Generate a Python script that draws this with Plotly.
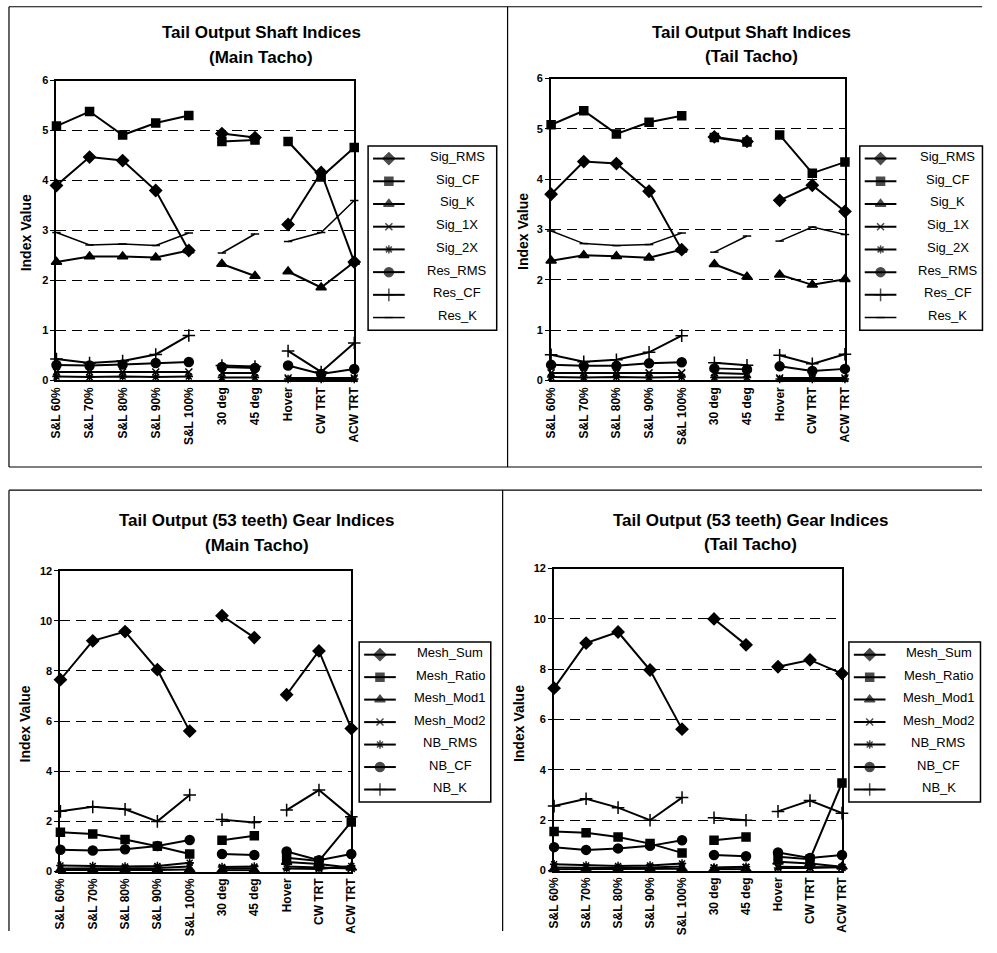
import plotly.graph_objects as go

# figure size in pixels
W, H = 989, 937
# screen placement of the figure: screen = offset + scale * figure pixel
SX_OFF, SX_SCALE = 3.0, 0.9965
SY_OFF, SY_SCALE = 8.9, 0.981

categories = ["S&L 60%", "S&L 70%", "S&L 80%", "S&L 90%", "S&L 100%",
              "30 deg", "45 deg", "Hover", "CW TRT", "ACW TRT"]

# Tail output shaft indices, main tacho
sig_rms_main = [3.90, 4.47, 4.40, 3.80, 2.60, 4.94, 4.86, 3.12, 4.16, 2.37]
sig_cf_main = [5.09, 5.38, 4.91, 5.15, 5.30, 4.78, 4.81, 4.78, 4.07, 4.66]
sig_k_main = [2.37, 2.48, 2.48, 2.46, 2.60, 2.33, 2.09, 2.18, 1.86, 2.37]
sig_1x_main = [0.17, 0.17, 0.17, 0.17, 0.17, 0.15, 0.15, 0.05, 0.05, 0.05]
sig_2x_main = [0.08, 0.07, 0.08, 0.07, 0.08, 0.06, 0.06, 0.03, 0.03, 0.03]
res_rms_main = [0.31, 0.30, 0.32, 0.35, 0.37, 0.27, 0.25, 0.30, 0.13, 0.23]
res_cf_main = [0.43, 0.35, 0.39, 0.52, 0.90, 0.30, 0.28, 0.59, 0.17, 0.75]
res_k_main = [2.96, 2.71, 2.73, 2.70, 2.95, 2.55, 2.93, 2.78, 2.96, 3.60]

# Tail output shaft indices, tail tacho
sig_rms_tail = [3.70, 4.35, 4.31, 3.76, 2.60, 4.84, 4.75, 3.58, 3.88, 3.36]
sig_cf_tail = [5.08, 5.36, 4.90, 5.13, 5.26, 4.83, 4.74, 4.88, 4.12, 4.34]
sig_k_tail = [2.38, 2.49, 2.47, 2.44, 2.60, 2.31, 2.06, 2.10, 1.90, 2.01]
sig_1x_tail = [0.15, 0.15, 0.15, 0.15, 0.15, 0.15, 0.13, 0.05, 0.05, 0.05]
sig_2x_tail = [0.07, 0.06, 0.07, 0.06, 0.07, 0.06, 0.06, 0.03, 0.03, 0.03]
res_rms_tail = [0.31, 0.29, 0.29, 0.34, 0.36, 0.24, 0.22, 0.28, 0.19, 0.23]
res_cf_tail = [0.51, 0.37, 0.41, 0.56, 0.89, 0.35, 0.30, 0.50, 0.33, 0.52]
res_k_tail = [2.97, 2.72, 2.68, 2.70, 2.93, 2.55, 2.87, 2.77, 3.05, 2.90]

# Tail output (53 teeth) gear indices, main tacho
mesh_sum_main = [7.65, 9.20, 9.57, 8.05, 5.60, 10.20, 9.33, 7.05, 8.80, 5.70]
mesh_ratio_main = [1.57, 1.50, 1.28, 1.01, 0.70, 1.25, 1.43, 0.55, 0.42, 1.98]
mesh_mod1_main = [0.06, 0.05, 0.05, 0.06, 0.08, 0.05, 0.05, 0.38, 0.30, 0.15]
mesh_mod2_main = [0.12, 0.12, 0.12, 0.14, 0.20, 0.12, 0.13, 0.20, 0.15, 0.12]
nb_rms_main = [0.24, 0.22, 0.20, 0.22, 0.35, 0.18, 0.20, 0.12, 0.10, 0.22]
nb_cf_main = [0.87, 0.84, 0.89, 1.02, 1.26, 0.70, 0.66, 0.80, 0.45, 0.70]
nb_k_main = [2.40, 2.58, 2.48, 2.00, 3.05, 2.07, 1.96, 2.45, 3.25, 2.18]

# Tail output (53 teeth) gear indices, tail tacho
mesh_sum_tail = [7.25, 9.04, 9.48, 7.97, 5.62, 10.00, 8.97, 8.10, 8.37, 7.83]
mesh_ratio_tail = [1.55, 1.50, 1.33, 1.07, 0.70, 1.20, 1.33, 0.55, 0.45, 3.48]
mesh_mod1_tail = [0.05, 0.05, 0.05, 0.05, 0.07, 0.05, 0.05, 0.35, 0.28, 0.15]
mesh_mod2_tail = [0.12, 0.10, 0.10, 0.12, 0.16, 0.10, 0.12, 0.15, 0.12, 0.12]
nb_rms_tail = [0.25, 0.20, 0.18, 0.20, 0.28, 0.12, 0.15, 0.10, 0.10, 0.15]
nb_cf_tail = [0.93, 0.82, 0.88, 0.98, 1.20, 0.62, 0.57, 0.72, 0.50, 0.62]
nb_k_tail = [2.56, 2.85, 2.50, 2.00, 2.90, 2.10, 2.00, 2.35, 2.78, 2.28]

# flight-condition blocks: lines are not joined from one block to the next
blocks = [[0, 1, 2, 3, 4], [5, 6], [7, 8, 9]]

shaft_names = ["Sig_RMS", "Sig_CF", "Sig_K", "Sig_1X", "Sig_2X",
               "Res_RMS", "Res_CF", "Res_K"]
gear_names = ["Mesh_Sum", "Mesh_Ratio", "Mesh_Mod1", "Mesh_Mod2",
              "NB_RMS", "NB_CF", "NB_K"]

# symbol, size, line width per series
shaft_styles = [("diamond", 9, 2), ("square", 8, 2), ("triangle-up", 9, 2),
                ("x-thin-open", 7, 2), ("asterisk-open", 7, 2),
                ("circle", 9, 2), ("cross-thin-open", 9, 2),
                ("line-ew-open", 6, 1.5)]
gear_styles = [("diamond", 9, 2), ("square", 8, 2), ("triangle-up", 9, 2),
               ("x-thin-open", 7, 2), ("asterisk-open", 7, 2),
               ("circle", 9, 2), ("cross-thin-open", 9, 2)]

FONT = "Liberation Sans, Arial, sans-serif"


def fig_x(x):
    """screen column -> figure pixel"""
    return (x - SX_OFF) / SX_SCALE


def fig_y(y):
    """screen row -> figure pixel (from top)"""
    return (y - SY_OFF) / SY_SCALE


def px_x(x):
    return fig_x(x) / W


def px_y(y):
    return 1 - fig_y(y) / H


def broken(values):
    xs, ys = [], []
    for b, idx in enumerate(blocks):
        if b:
            xs.append(None)
            ys.append(None)
        for i in idx:
            xs.append(i)
            ys.append(values[i])
    return xs, ys


panels = [
    dict(series=[sig_rms_main, sig_cf_main, sig_k_main, sig_1x_main,
                 sig_2x_main, res_rms_main, res_cf_main, res_k_main],
         names=shaft_names, styles=shaft_styles, ymax=6, dtick=1,
         title=("Tail Output Shaft Indices", "(Main Tacho)"),
         title_xy=(260, 35, 60), plot=(53, 354, 83, 381),
         ytitle=(22, 234), legend_box=(368, 498, 148, 331), key_cx=458),
    dict(series=[sig_rms_tail, sig_cf_tail, sig_k_tail, sig_1x_tail,
                 sig_2x_tail, res_rms_tail, res_cf_tail, res_k_tail],
         names=shaft_names, styles=shaft_styles, ymax=6, dtick=1,
         title=("Tail Output Shaft Indices", "(Tail Tacho)"),
         title_xy=(756, 35, 59), plot=(553, 850, 81, 381),
         ytitle=(524, 233), legend_box=(865, 989, 148, 331), key_cx=954),
    dict(series=[mesh_sum_main, mesh_ratio_main, mesh_mod1_main,
                 mesh_mod2_main, nb_rms_main, nb_cf_main, nb_k_main],
         names=gear_names, styles=gear_styles, ymax=12, dtick=2,
         title=("Tail Output (53 teeth) Gear Indices", "(Main Tacho)"),
         title_xy=(256, 520, 545), plot=(57, 351, 570, 869),
         ytitle=(21, 722), legend_box=(359, 492, 641, 800), key_cx=451),
    dict(series=[mesh_sum_tail, mesh_ratio_tail, mesh_mod1_tail,
                 mesh_mod2_tail, nb_rms_tail, nb_cf_tail, nb_k_tail],
         names=gear_names, styles=gear_styles, ymax=12, dtick=2,
         title=("Tail Output (53 teeth) Gear Indices", "(Tail Tacho)"),
         title_xy=(755, 520, 544), plot=(556, 847, 568, 868),
         ytitle=(520, 722), legend_box=(854, 987, 641, 800), key_cx=945),
]

fig = go.Figure()
layout = dict(
    width=W, height=H, margin=dict(l=0, r=0, t=0, b=0),
    paper_bgcolor="white", plot_bgcolor="rgba(0,0,0,0)",
    font=dict(family=FONT, color="black"),
    showlegend=False,
)
annotations = []
shapes = []

# legend glyph positions (figure pixels, drawn on a full-figure overlay axis)
key_x, key_y, key_sym, key_size = [], [], [], []

for k, p in enumerate(panels, start=1):
    sfx = "" if k == 1 else str(k)
    for vals, name, (sym, size, lw) in zip(p["series"], p["names"], p["styles"]):
        xs, ys = broken(vals)
        fig.add_trace(go.Scatter(
            x=xs, y=ys, name=name, mode="lines+markers",
            xaxis="x" + sfx, yaxis="y" + sfx,
            line=dict(color="black", width=lw),
            marker=dict(symbol=sym, size=size, color="black",
                        line=dict(color="black", width=1.5)),
            connectgaps=False, cliponaxis=False,
        ))

    x0, x1, y0, y1 = p["plot"]
    layout["xaxis" + sfx] = dict(
        domain=[px_x(x0), px_x(x1)], anchor="y" + sfx,
        range=[0, 9], tickmode="array", tickvals=list(range(len(categories))),
        ticktext=categories, tickangle=-90, ticks="",
        tickfont=dict(family=FONT, size=12, weight="bold"),
        showline=True, linecolor="black", linewidth=2, mirror=True,
        showgrid=False, zeroline=False, fixedrange=True,
    )
    layout["yaxis" + sfx] = dict(
        domain=[px_y(y1), px_y(y0)], anchor="x" + sfx,
        range=[0, p["ymax"]], dtick=p["dtick"], tick0=0,
        ticks="outside", ticklen=4, tickcolor="black",
        tickfont=dict(family=FONT, size=11, weight="bold"),
        showline=True, linecolor="black", linewidth=2, mirror=True,
        showgrid=True, gridcolor="black", gridwidth=1.2, griddash="10px,6px",
        zeroline=False, fixedrange=True,
    )

    # legend box with centred entry names
    lx0, lx1, ly0, ly1 = p["legend_box"]
    shapes.append(dict(type="rect", xref="paper", yref="paper",
                       x0=px_x(lx0), x1=px_x(lx1), y0=px_y(ly1), y1=px_y(ly0),
                       line=dict(color="black", width=1.5)))
    n = len(p["names"])
    step = (ly1 - ly0 - 25) / (n - 1)
    for i, (name, (sym, size, lw)) in enumerate(zip(p["names"], p["styles"])):
        ey = ly0 + 12.5 + i * step
        shapes.append(dict(type="line", xref="paper", yref="paper",
                           x0=px_x(lx0 + 5), x1=px_x(lx0 + 37),
                           y0=px_y(ey), y1=px_y(ey),
                           line=dict(color="black", width=lw)))
        key_x.append(fig_x(lx0 + 21))
        key_y.append(fig_y(ey))
        key_sym.append(sym)
        key_size.append(size)
        annotations.append(dict(
            text=name, x=px_x(p["key_cx"]), y=px_y(ey - 2), xref="paper",
            yref="paper", xanchor="center", yanchor="middle", showarrow=False,
            font=dict(family=FONT, size=13, color="black"),
        ))

    tx, ty1, ty2 = p["title_xy"]
    for text, ty in zip(p["title"], (ty1, ty2)):
        annotations.append(dict(
            text=text, x=px_x(tx), y=px_y(ty), xref="paper", yref="paper",
            xanchor="center", yanchor="middle", showarrow=False,
            font=dict(family=FONT, size=17, weight="bold", color="black"),
        ))
    ax, ay = p["ytitle"]
    annotations.append(dict(
        text="Index Value", x=px_x(ax), y=px_y(ay), xref="paper", yref="paper",
        xanchor="center", yanchor="middle", showarrow=False, textangle=-90,
        font=dict(family=FONT, size=14, weight="bold", color="black"),
    ))

# legend glyphs
fig.add_trace(go.Scatter(
    x=key_x, y=key_y, mode="markers", xaxis="x5", yaxis="y5",
    marker=dict(symbol=key_sym, size=key_size, color="black",
                line=dict(color="black", width=1.5)),
    cliponaxis=False, hoverinfo="skip",
))
layout["xaxis5"] = dict(domain=[0, 1], range=[0, W], anchor="y5",
                        visible=False, fixedrange=True)
layout["yaxis5"] = dict(domain=[0, 1], range=[H, 0], anchor="x5",
                        visible=False, fixedrange=True)

# panel frames (in figure paper units)
frame = dict(color="black", width=1.2)
top, left, right, bottom = 0.0008, px_x(5), 1.0, 0.0
for (fx0, fy0, fx1, fy1) in [
        (left, 1 - top, right, 1 - top),
        (left, px_y(467), right, px_y(467)),
        (left, 1 - top, left, px_y(467)),
        (px_x(509), 1 - top, px_x(509), px_y(467)),
        (left, px_y(490), right, px_y(490)),
        (left, px_y(490), left, bottom),
        (px_x(504), px_y(490), px_x(504), bottom)]:
    shapes.append(dict(type="line", xref="paper", yref="paper",
                       x0=fx0, x1=fx1, y0=fy0, y1=fy1, line=frame))

layout["annotations"] = annotations
layout["shapes"] = shapes
fig.update_layout(**layout)

fig.write_html("out.html")
